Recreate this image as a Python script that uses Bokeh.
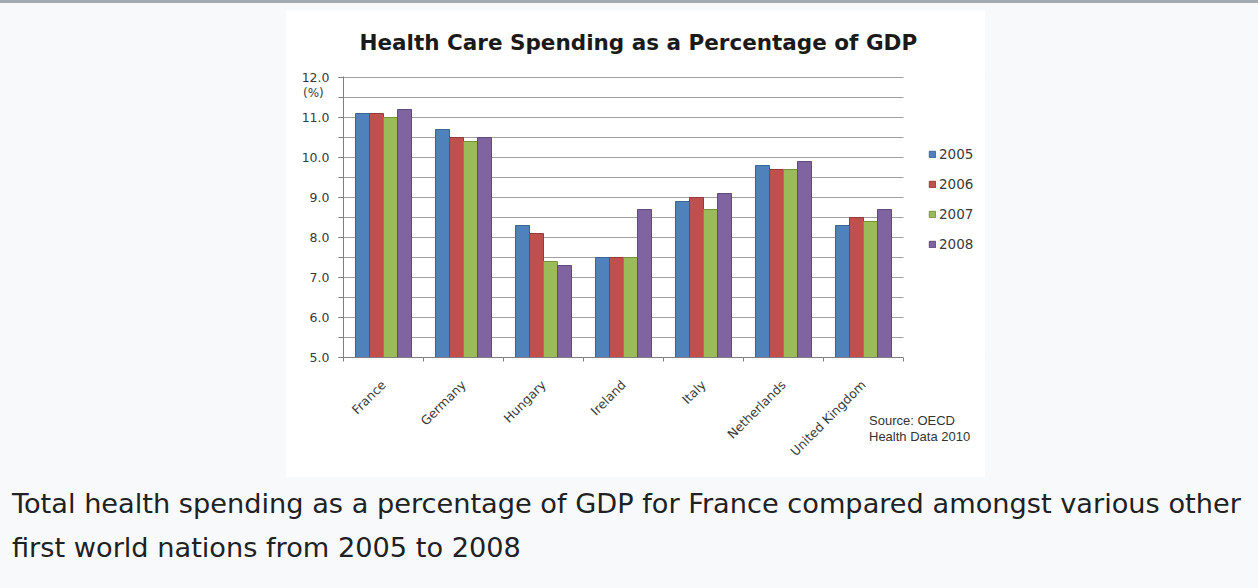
import math
from bokeh.plotting import figure
from bokeh.models import (Range1d, FixedTicker, SingleIntervalTicker, NumeralTickFormatter,
                          ColumnDataSource, Legend, LegendItem, Div, Spacer, BoxAnnotation)
from bokeh.layouts import column, row
from bokeh.transform import dodge
from bokeh.embed import file_html
from bokeh.resources import INLINE

# ---------------- data ----------------
countries = ["France", "Germany", "Hungary", "Ireland", "Italy", "Netherlands", "United Kingdom"]
years = ["2005", "2006", "2007", "2008"]
v2005 = [11.1, 10.7, 8.3, 7.5, 8.9, 9.8, 8.3]
v2006 = [11.1, 10.5, 8.1, 7.5, 9.0, 9.7, 8.5]
v2007 = [11.0, 10.4, 7.4, 7.5, 8.7, 9.7, 8.4]
v2008 = [11.2, 10.5, 7.3, 8.7, 9.1, 9.9, 8.7]
y_ticks_min, y_ticks_max = 5.0, 12.0

title_text = "Health Care Spending as a Percentage of GDP"
unit_text = "(%)"
source_lines = ["Source: OECD", "Health Data 2010"]
caption_lines = ["Total health spending as a percentage of GDP for France compared amongst various other",
                 "first world nations from 2005 to 2008"]

fills = ["#4f81bd", "#c0504d", "#9bbb59", "#8064a2"]
edges = ["#3b6698", "#963c3a", "#76923f", "#5f4a7e"]

# ---------------- chart ----------------
n = len(countries)
xs = list(range(n))
cat_lo, cat_hi = -0.5, n - 0.5
legend_room = 82 / 80.0          # extra x-room (in category widths) for the legend column
top_pad = 1 / 40.0               # one pixel of head-room so the 12.0 grid line is drawn
src = ColumnDataSource(dict(x=xs, y2005=v2005, y2006=v2006, y2007=v2007, y2008=v2008))

p = figure(width=700, height=467,
           x_range=Range1d(cat_lo, cat_hi + legend_room),
           y_range=Range1d(y_ticks_min, y_ticks_max + top_pad),
           output_backend="svg", toolbar_location=None,
           min_border_left=58, min_border_right=0, min_border_top=66, min_border_bottom=120,
           background_fill_color="white", border_fill_color="white", outline_line_color=None)

bw = 0.175
offsets = [-1.5 * bw, -0.5 * bw, 0.5 * bw, 1.5 * bw]
items = []
for yr, off, fc, ec in zip(years, offsets, fills, edges):
    r = p.vbar(x=dodge("x", off), top="y" + yr, bottom=y_ticks_min, width=bw, source=src,
               fill_color=fc, line_color=ec, line_width=1)
    items.append(LegendItem(label=yr, renderers=[r]))

# title
p.title.text = title_text
p.title.align = "left"
p.title.vertical_align = "top"
p.title.offset = 16
p.title.standoff = 39
p.title.text_font = "DejaVu Sans"
p.title.text_font_style = "bold"
p.title.text_font_size = "21.5px"
p.title.text_color = "#1a1a1a"

# y axis
p.yaxis.ticker = SingleIntervalTicker(interval=1, num_minor_ticks=2)
p.yaxis.formatter = NumeralTickFormatter(format="0.0")
p.yaxis.axis_line_color = "#7f7f7f"
p.yaxis.major_tick_line_color = "#7f7f7f"
p.yaxis.minor_tick_line_color = "#7f7f7f"
p.yaxis.major_tick_out = 5
p.yaxis.major_tick_in = 0
p.yaxis.minor_tick_out = 5
p.yaxis.minor_tick_in = 0
p.yaxis.major_label_standoff = 9
p.yaxis.major_label_text_font = "DejaVu Sans"
p.yaxis.major_label_text_font_size = "12.5px"
p.yaxis.major_label_text_color = "#3a3a3a"

# x axis (limited to the category span)
p.xaxis.bounds = (cat_lo, cat_hi)
p.xaxis.ticker = FixedTicker(ticks=xs, minor_ticks=[i - 0.5 for i in range(n + 1)])
p.xaxis.major_label_overrides = {i: c for i, c in zip(xs, countries)}
p.xaxis.major_label_orientation = math.pi / 4
p.xaxis.axis_line_color = "#7f7f7f"
p.xaxis.major_tick_line_color = None
p.xaxis.major_tick_out = 0
p.xaxis.major_tick_in = 0
p.xaxis.minor_tick_line_color = "#7f7f7f"
p.xaxis.minor_tick_out = 4
p.xaxis.minor_tick_in = 0
p.xaxis.major_label_standoff = 21
p.xaxis.major_label_text_font = "DejaVu Sans"
p.xaxis.major_label_text_font_size = "12.5px"
p.xaxis.major_label_text_color = "#3a3a3a"

# grid
p.xgrid.grid_line_color = None
p.ygrid.grid_line_color = "#a0a0a0"
p.ygrid.minor_grid_line_color = "#a0a0a0"
p.ygrid.grid_line_width = 1

# blank the legend column so the grid stops at the last category
p.add_layout(BoxAnnotation(left=cat_hi, fill_color="white", fill_alpha=1.0, line_color=None))

# legend (inside the extended frame, right of the categories)
legend = Legend(items=items, location=(585, 105), padding=0, margin=0,
                border_line_color=None, background_fill_alpha=0,
                glyph_width=8, glyph_height=8, label_standoff=3,
                label_text_font="DejaVu Sans", label_text_font_size="13.5px",
                label_text_color="#3a3a3a", spacing=14, label_height=12)
p.add_layout(legend, "center")

# ---------------- page ----------------
unit_div = Div(text=unit_text, width=24, height=14,
               styles={"position": "absolute", "left": "298px", "top": "81px",
                       "font-family": "DejaVu Sans", "font-size": "12px", "line-height": "14px",
                       "color": "#3a3a3a", "white-space": "nowrap"})
source_div = Div(text="<br>".join(source_lines), width=110, height=34,
                 styles={"position": "absolute", "left": "864px", "top": "408px",
                         "font-family": "Liberation Sans", "font-size": "13px", "line-height": "16px",
                         "color": "#333333", "white-space": "nowrap"})

cap_html = ("<div style=\"font-family:'DejaVu Sans';font-size:27.2px;line-height:44px;"
            "color:#202122;padding-left:7px;white-space:nowrap;\">"
            + "<br>".join(caption_lines) + "</div>")
cap = Div(text=cap_html, width=1242, height=111)

topbar = Spacer(width=1258, height=3, styles={"background-color": "#a2a9b1"})
layout = column(topbar, Spacer(width=1242, height=7),
                row(Spacer(width=285, height=467), p, Spacer(width=257, height=467)),
                cap, unit_div, source_div,
                styles={"background-color": "#f8f9fa", "position": "relative"})

open("out.html", "w").write(file_html(layout, INLINE))
